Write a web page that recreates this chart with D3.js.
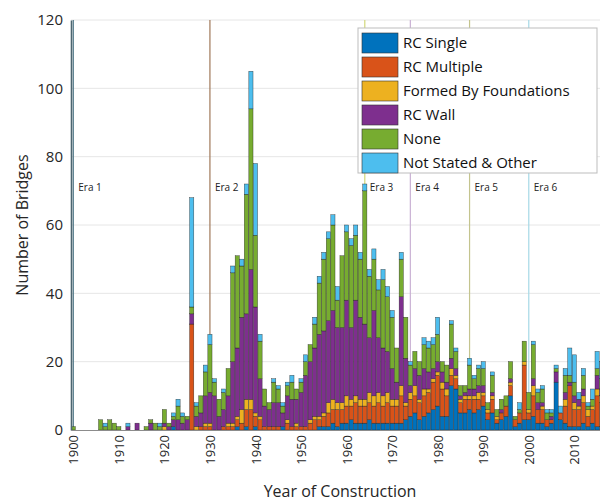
<!DOCTYPE html>
<html>
<head>
<meta charset="utf-8">
<script src="https://cdn.jsdelivr.net/npm/d3@7"></script>
<style>
  body { margin: 0; background: #fff; }
  svg { font-family: "Open Sans", "Liberation Sans", sans-serif; }
</style>
</head>
<body>
<div id="chart"></div>
<script>
// bridges per construction year, split by foundation type
const firstYear = 1900, lastYear = 2016;
const years = d3.range(firstYear, lastYear + 1);

const seriesNames = ['RC Single', 'RC Multiple', 'Formed By Foundations', 'RC Wall', 'None', 'Not Stated & Other'];
const seriesColors = ['#0072BD', '#D95319', '#EDB120', '#7E2F8E', '#77AC30', '#4DBEEE'];

// one value per year, 1900..2016 (10 per row)
const rcSingle = [
  0,0,0,0,0,0,0,0,0,0,
  0,0,0,0,0,0,0,0,0,0,
  0,0,1,0,0,0,0,0,0,0,
  0,0,0,0,0,0,1,0,1,0,
  1,0,0,0,0,0,1,0,0,0,
  0,0,0,0,1,1,1,2,1,2,
  2,3,2,2,2,3,2,2,2,2,
  2,2,2,3,4,5,3,4,5,6,
  7,4,4,13,12,5,5,6,5,6,
  7,3,5,2,3,4,10,1,2,3,
  3,4,2,2,1,2,14,3,2,1,
  1,1,2,1,2,1,1
];
const rcMultiple = [
  0,0,0,0,0,0,0,0,0,0,
  0,0,0,0,0,0,0,0,0,0,
  0,0,0,0,0,0,31,0,1,1,
  1,0,0,1,1,1,2,2,5,6,
  3,3,1,1,1,1,0,2,1,1,
  1,1,2,3,2,3,4,4,5,4,
  5,4,6,5,5,5,5,6,5,6,
  5,5,8,4,5,5,5,6,6,8,
  9,8,6,3,3,3,4,3,4,3,
  3,2,4,1,2,3,3,2,3,16,
  2,6,4,4,2,1,0,2,5,12,
  5,5,6,3,4,9,7
];
const formedByFoundations = [
  0,0,0,0,0,0,0,0,0,0,
  0,0,0,0,0,0,0,0,0,0,
  1,0,0,0,0,0,0,1,0,1,
  1,0,0,0,1,1,1,4,3,3,
  1,1,0,0,0,0,0,1,0,1,
  0,0,1,1,1,1,3,3,2,2,
  3,2,2,2,2,3,3,3,3,3,
  2,2,3,1,2,3,1,2,1,1,
  1,2,2,2,1,1,1,1,1,2,
  1,1,1,1,0,0,1,0,0,1,
  1,3,0,1,0,0,0,0,2,0,
  2,1,2,2,1,2,2
];
const rcWall = [
  0,0,0,0,0,0,0,0,0,0,
  0,0,1,0,2,0,0,2,0,0,
  1,1,2,3,2,3,3,3,4,8,
  9,10,4,5,8,18,20,27,25,38,
  31,11,6,5,7,7,4,7,8,7,
  10,15,17,20,24,24,24,26,22,22,
  28,21,28,24,22,16,25,16,14,12,
  9,5,26,13,2,5,7,6,5,3,
  3,3,2,3,2,1,1,2,2,2,
  2,0,1,0,1,0,1,0,0,0,
  0,2,2,1,0,1,3,0,2,1,
  2,2,2,0,0,4,2
];
const noneType = [
  1,0,0,0,0,0,3,1,3,2,
  1,0,0,0,0,0,1,1,2,1,
  4,1,1,4,2,1,2,3,5,7,
  14,4,5,5,8,26,27,15,35,47,
  21,11,5,2,6,4,2,3,5,3,
  3,4,5,7,15,21,24,25,8,21,
  20,24,19,17,39,18,15,14,20,16,
  15,10,11,12,6,5,4,7,7,7,
  8,3,5,10,5,3,2,7,3,5,
  5,2,5,2,3,3,5,1,1,6,
  5,10,3,4,2,1,1,0,5,2,
  4,0,4,1,2,2,3
];
const notStatedOther = [
  0,0,0,0,0,0,0,1,0,0,
  0,0,1,0,0,0,0,0,0,1,
  0,0,1,2,1,0,32,1,0,2,
  3,1,0,1,0,2,0,2,3,11,
  21,2,0,0,1,1,1,1,2,0,
  1,2,0,2,2,2,2,3,4,0,
  2,2,3,2,2,2,3,3,3,3,
  2,0,2,0,1,0,0,2,2,2,
  5,0,0,1,1,0,0,2,1,1,
  2,0,1,0,0,0,0,0,2,0,
  0,1,1,1,1,1,1,2,2,8,
  8,2,2,1,3,5,5
];

const eraYears = [1900, 1930, 1964, 1974, 1987, 2000];
const eraLabels = ['Era 1', 'Era 2', 'Era 3', 'Era 4', 'Era 5', 'Era 6'];
const eraColors = ['#4d7585', '#a0785a', '#d2d77a', '#c9b1d4', '#c4c48e', '#a6d8e6'];

const yTicks = [0, 20, 40, 60, 80, 100, 120];
const xTicks = [1900, 1910, 1920, 1930, 1940, 1950, 1960, 1970, 1980, 1990, 2000, 2010];

const width = 600, height = 501;
const plot = {left: 71, top: 20, bottom: 430};
const yearStep = 4.555;

const svg = d3.select('#chart').append('svg')
  .attr('width', width).attr('height', height);

const x = d3.scaleLinear()
  .domain([firstYear - 0.5, lastYear + 0.5])
  .range([plot.left, plot.left + (lastYear - firstYear + 1) * yearStep]);
const y = d3.scaleLinear().domain([0, 120]).range([plot.bottom, plot.top]);

// build the table for d3.stack
const cols = [rcSingle, rcMultiple, formedByFoundations, rcWall, noneType, notStatedOther];
const table = years.map((yr, i) => {
  const row = {year: yr};
  seriesNames.forEach((name, k) => { row[name] = cols[k][i]; });
  return row;
});
const stacked = d3.stack().keys(seriesNames)(table);

// grid
svg.append('g')
  .selectAll('line')
  .data(yTicks.slice(1))
  .join('line')
  .attr('x1', plot.left).attr('x2', width)
  .attr('y1', d => y(d)).attr('y2', d => y(d))
  .attr('stroke', '#e6e6e6').attr('stroke-width', 1);

// era lines (behind the bars)
svg.append('g')
  .selectAll('line')
  .data(eraYears)
  .join('line')
  .attr('x1', d => x(d)).attr('x2', d => x(d))
  .attr('y1', y(0)).attr('y2', y(120))
  .attr('stroke', (d, i) => eraColors[i]).attr('stroke-width', 1.2);

// bars
const bw = yearStep * 0.92;
svg.append('g')
  .selectAll('g')
  .data(stacked)
  .join('g')
  .attr('fill', (d, i) => seriesColors[i])
  .selectAll('rect')
  .data(d => d.filter(s => s[1] > s[0]))
  .join('rect')
  .attr('x', d => x(d.data.year) - bw / 2)
  .attr('width', bw)
  .attr('y', d => y(d[1]))
  .attr('height', d => y(d[0]) - y(d[1]))
  .attr('stroke', '#1a1a1a').attr('stroke-width', 0.45).attr('stroke-opacity', 0.8);

// era labels
svg.append('g')
  .selectAll('text')
  .data(eraYears)
  .join('text')
  .attr('x', d => x(d) + 5)
  .attr('y', y(71))
  .attr('dy', '0.35em')
  .attr('font-size', 10)
  .attr('fill', '#222')
  .text((d, i) => eraLabels[i]);

// axes
const yAxis = svg.append('g')
  .attr('transform', `translate(${plot.left},0)`)
  .call(d3.axisLeft(y).tickValues(yTicks).tickSize(0).tickPadding(8));
yAxis.select('.domain').attr('stroke', '#4d6670').attr('stroke-width', 1.6);
yAxis.selectAll('text').attr('font-size', 15).attr('fill', '#262626')
  .attr('font-family', '"Open Sans", sans-serif');

const xAxis = svg.append('g')
  .attr('transform', `translate(0,${plot.bottom})`)
  .call(d3.axisBottom(x).tickValues(xTicks).tickFormat(d3.format('d')).tickSize(0));
xAxis.select('.domain').attr('stroke', '#8c8c8c').attr('stroke-width', 1);
xAxis.selectAll('text')
  .attr('font-size', 13).attr('fill', '#262626')
  .attr('font-family', '"Open Sans", sans-serif')
  .attr('transform', 'rotate(-90)')
  .attr('text-anchor', 'end')
  .attr('x', -5).attr('y', 0).attr('dy', '0.35em');

// axis titles
svg.append('text')
  .attr('x', 340).attr('y', 497)
  .attr('text-anchor', 'middle')
  .attr('font-size', 16).attr('fill', '#262626')
  .text('Year of Construction');
svg.append('text')
  .attr('transform', `translate(22,${(plot.top + plot.bottom) / 2}) rotate(-90)`)
  .attr('text-anchor', 'middle')
  .attr('dy', '0.35em')
  .attr('font-size', 16).attr('fill', '#262626')
  .text('Number of Bridges');

// legend
const lg = svg.append('g').attr('transform', 'translate(358,28)');
lg.append('rect')
  .attr('width', 239).attr('height', 145)
  .attr('fill', '#fff').attr('stroke', '#bdbdbd').attr('stroke-width', 1);
const item = lg.selectAll('g.item')
  .data(seriesNames)
  .join('g')
  .attr('class', 'item')
  .attr('transform', (d, i) => `translate(4,${5 + i * 24})`);
item.append('rect')
  .attr('width', 36).attr('height', 20)
  .attr('fill', (d, i) => seriesColors[i])
  .attr('stroke', '#333').attr('stroke-width', 0.6);
item.append('text')
  .attr('x', 41).attr('y', 10).attr('dy', '0.35em')
  .attr('font-size', 15).attr('fill', '#111')
  .text(d => d);
</script>
</body>
</html>
